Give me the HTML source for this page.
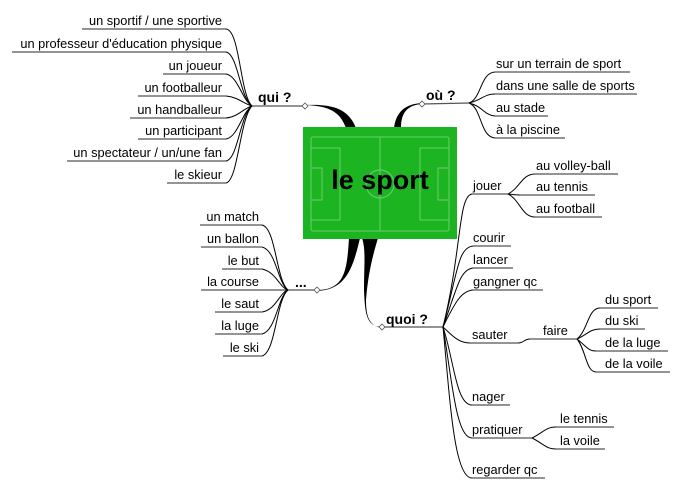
<!DOCTYPE html>
<html><head><meta charset="utf-8"><style>
html,body{margin:0;padding:0;background:#fff;}
svg{display:block;}
text{font-family:"Liberation Sans",sans-serif;font-size:12.8px;fill:#000;}
.b{font-weight:bold;font-size:14px;}
.l{stroke:#000;stroke-width:1;fill:none;}
.u{stroke:#555;stroke-width:1.3;fill:none;}
</style></head><body>
<svg width="680" height="500" viewBox="0 0 680 500" xmlns="http://www.w3.org/2000/svg">
<path d="M305 105 C330 106 340 112 346 128 L356 128 C348 108 332 104 305 105 Z" fill="#000"/>
<path d="M422 103 C405 104 396 112 394 128 L401 128 C401 112 408 105 422 104 Z" fill="#000"/>
<path d="M317 290 C345 290 347 270 349 238 L360 238 C353 268 346 290 317 291 Z" fill="#000"/>
<path d="M382 327 C365 327 365 310 364 290 C364 265 366 250 362 238 L378 238 C372 258 368 275 366 300 C366 318 370 326 382 328 Z" fill="#000"/>
<rect x="303" y="127" width="154" height="112" fill="#1cb521"/>
<g stroke="#7fd47f" stroke-width="1" fill="none" opacity="0.8">
<rect x="311" y="137" width="138" height="94" rx="2"/>
<line x1="380" y1="137" x2="380" y2="231"/>
<circle cx="380" cy="184" r="14"/>
<rect x="311" y="148" width="29" height="72"/>
<rect x="311" y="168" width="11" height="32"/>
<rect x="420" y="148" width="29" height="72"/>
<rect x="438" y="168" width="11" height="32"/>
</g>
<text x="380" y="189" text-anchor="middle" style="font-weight:bold;font-size:27px">le sport</text>

<line class="u" x1="252" y1="106" x2="305" y2="106"/>
<path d="M305 103 l3 3 l-3 3 l-3 -3 Z" fill="#fff" stroke="#555" stroke-width="0.8"/>
<text class="b" x="258" y="102">qui ?</text>
<g class="u">
<line x1="82" y1="29" x2="226" y2="29"/><line x1="12" y1="52" x2="226" y2="52"/>
<line x1="163" y1="74" x2="226" y2="74"/><line x1="138" y1="96" x2="226" y2="96"/>
<line x1="130" y1="118" x2="226" y2="118"/><line x1="138" y1="139" x2="226" y2="139"/>
<line x1="67" y1="161" x2="226" y2="161"/><line x1="167" y1="183" x2="226" y2="183"/>
</g>
<g class="l">
<path d="M226 29 C240 30 240 95 252 106"/><path d="M226 52 C238 54 240 98 252 106"/>
<path d="M226 74 C238 76 242 100 252 106"/><path d="M226 96 C238 97 244 104 252 106"/>
<path d="M226 118 C238 117 244 108 252 106"/><path d="M226 139 C238 137 242 112 252 106"/>
<path d="M226 161 C238 159 240 115 252 106"/><path d="M226 183 C238 181 240 118 252 106"/>
</g>
<g text-anchor="end">
<text x="222" y="25">un sportif / une sportive</text>
<text x="222" y="48">un professeur d'éducation physique</text>
<text x="222" y="70">un joueur</text>
<text x="222" y="92">un footballeur</text>
<text x="222" y="114">un handballeur</text>
<text x="222" y="135">un participant</text>
<text x="222" y="157">un spectateur / un/une fan</text>
<text x="222" y="179">le skieur</text>
</g>

<line class="u" x1="422" y1="104" x2="469" y2="103"/>
<path d="M422 101 l3 3 l-3 3 l-3 -3 Z" fill="#fff" stroke="#555" stroke-width="0.8"/>
<text class="b" x="426" y="100">où ?</text>
<g class="u">
<line x1="495" y1="72" x2="630" y2="72"/><line x1="495" y1="94" x2="637" y2="94"/>
<line x1="495" y1="116" x2="548" y2="116"/><line x1="495" y1="138" x2="565" y2="138"/>
</g>
<g class="l">
<path d="M469 103 C482 98 480 73 495 72"/><path d="M469 103 C482 100 484 94 495 94"/>
<path d="M469 103 C482 106 484 115 495 116"/><path d="M469 103 C482 108 480 137 495 138"/>
</g>
<text x="496" y="68">sur un terrain de sport</text>
<text x="496" y="90">dans une salle de sports</text>
<text x="496" y="112">au stade</text>
<text x="496" y="134">à la piscine</text>

<line class="u" x1="288" y1="290" x2="317" y2="290"/>
<path d="M317 287 l3 3 l-3 3 l-3 -3 Z" fill="#fff" stroke="#555" stroke-width="0.8"/>
<text class="b" x="295" y="287">...</text>
<g class="u">
<line x1="200" y1="225" x2="262" y2="225"/><line x1="201" y1="247" x2="262" y2="247"/>
<line x1="222" y1="269" x2="262" y2="269"/><line x1="201" y1="290" x2="288" y2="290"/>
<line x1="215" y1="312" x2="262" y2="312"/><line x1="215" y1="334" x2="262" y2="334"/>
<line x1="223" y1="356" x2="262" y2="356"/>
</g>
<g class="l">
<path d="M262 225 C276 228 276 280 288 290"/><path d="M262 247 C276 250 278 284 288 290"/>
<path d="M262 269 C276 272 280 288 288 290"/>
<path d="M262 312 C276 310 280 292 288 290"/><path d="M262 334 C276 331 278 296 288 290"/>
<path d="M262 356 C276 352 276 300 288 290"/>
</g>
<g text-anchor="end">
<text x="259" y="221">un match</text><text x="259" y="243">un ballon</text>
<text x="259" y="265">le but</text><text x="259" y="286">la course</text>
<text x="259" y="308">le saut</text><text x="259" y="330">la luge</text>
<text x="259" y="352">le ski</text>
</g>

<line class="u" x1="382" y1="327" x2="443" y2="327"/>
<path d="M382 324 l3 3 l-3 3 l-3 -3 Z" fill="#fff" stroke="#555" stroke-width="0.8"/>
<text class="b" x="386" y="324">quoi ?</text>
<g class="u">
<line x1="472" y1="194" x2="508" y2="194"/>
<line x1="473" y1="246" x2="511" y2="246"/><line x1="473" y1="268" x2="513" y2="268"/>
<line x1="473" y1="290" x2="543" y2="290"/>
<line x1="470" y1="343" x2="518" y2="343"/><line x1="530" y1="339" x2="577" y2="339"/>
<line x1="472" y1="405" x2="510" y2="405"/><line x1="472" y1="438" x2="532" y2="438"/>
<line x1="472" y1="478" x2="545" y2="478"/>
<line x1="535" y1="174" x2="618" y2="174"/><line x1="520" y1="195" x2="595" y2="195"/>
<line x1="535" y1="217" x2="602" y2="217"/>
<line x1="600" y1="308" x2="658" y2="308"/><line x1="600" y1="329" x2="645" y2="329"/>
<line x1="596" y1="351" x2="668" y2="351"/><line x1="596" y1="372" x2="670" y2="372"/>
<line x1="556" y1="427" x2="614" y2="427"/><line x1="556" y1="449" x2="605" y2="449"/>
</g>
<g class="l">
<path d="M443 327 C462 250 458 196 472 194"/>
<path d="M443 327 C458 270 458 248 473 246"/>
<path d="M443 327 C458 285 460 270 473 268"/>
<path d="M443 327 C456 300 462 291 473 290"/>
<path d="M443 327 C452 335 458 343 470 343"/>
<path d="M518 343 C524 343 524 339 530 339"/>
<path d="M443 327 C454 360 456 405 472 405"/>
<path d="M443 327 C452 380 456 438 472 438"/>
<path d="M443 327 C450 400 454 478 472 478"/>
<path d="M508 194 C520 188 522 174 535 174"/><path d="M508 194 C515 195 518 195 520 195"/>
<path d="M508 194 C520 200 522 217 535 217"/>
<path d="M577 339 C588 330 588 308 600 308"/><path d="M577 339 C588 334 590 329 600 329"/>
<path d="M577 339 C586 346 588 351 596 351"/><path d="M577 339 C586 350 586 372 596 372"/>
<path d="M532 438 C544 432 546 427 556 427"/><path d="M532 438 C544 444 546 449 556 449"/>
</g>
<text x="473" y="190">jouer</text>
<text x="473" y="242">courir</text><text x="473" y="264">lancer</text>
<text x="473" y="286">gangner qc</text>
<text x="472" y="339">sauter</text><text x="543" y="335">faire</text>
<text x="472" y="401">nager</text><text x="472" y="434">pratiquer</text>
<text x="472" y="474">regarder qc</text>
<text x="536" y="170">au volley-ball</text><text x="536" y="191">au tennis</text>
<text x="536" y="213">au football</text>
<text x="605" y="304">du sport</text><text x="605" y="325">du ski</text>
<text x="605" y="347">de la luge</text><text x="605" y="368">de la voile</text>
<text x="560" y="423">le tennis</text><text x="560" y="445">la voile</text>
</svg>
</body></html>
